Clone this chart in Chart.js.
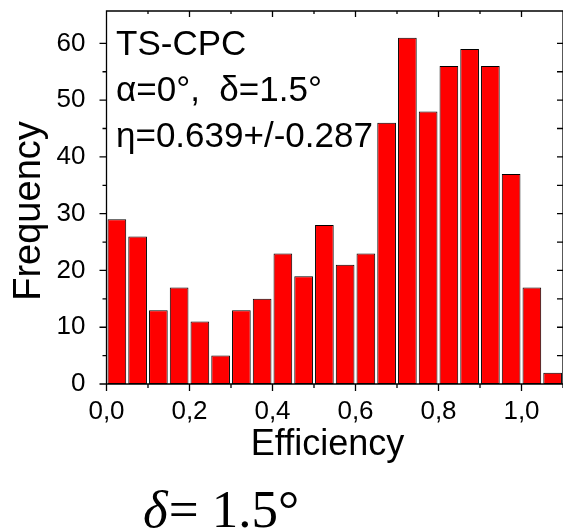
<!DOCTYPE html>
<html>
<head>
<meta charset="utf-8">
<script src="https://cdn.jsdelivr.net/npm/chart.js@4.4.1/dist/chart.umd.min.js"></script>
<style>
	body { margin: 0; background: #ffffff; }
	#wrap { width: 563px; height: 531px; position: relative; }
</style>
</head>
<body>
<div id="wrap"><canvas id="histogram"></canvas></div>
<script>

// bin centres (efficiency) and counts
var efficiencyBins					 =	[0.025, 0.075, 0.125, 0.175, 0.225, 0.275, 0.325, 0.375, 0.425, 0.475, 0.525,
										 0.575, 0.625, 0.675, 0.725, 0.775, 0.825, 0.875, 0.925, 0.975, 1.025, 1.075];
var frequencies						 =	[29, 26, 13, 17, 11, 5, 13, 15, 23, 19, 28,
										 21, 23, 46, 61, 48, 56, 59, 56, 37, 17, 2];
var xTickLabels						 =	["0,0", "0,2", "0,4", "0,6", "0,8", "1,0"];
var yTickLabels						 =	["0", "10", "20", "30", "40", "50", "60"];
var annotationLines					 =	["TS-CPC", "α=0°,  δ=1.5°", "η=0.639+/-0.287"];
var xTitle							 =	"Efficiency";
var yTitle							 =	"Frequency";
var captionSymbol					 =	"δ";
var captionText						 =	"= 1.5°";

var sansFont						 =	"'Liberation Sans', Arial, sans-serif";
var serifFont						 =	"'Liberation Serif', 'Times New Roman', serif";

/**
 * Draws frame, tick marks (outside on left/bottom, inside on top/right)
 */
var framePlugin						 =	{
	id								 :	"frame",
	afterDatasetsDraw				 :	function (chart) {
		
		var ctx						 =	chart.ctx;
		var area					 =	chart.chartArea;
		var xScale					 =	chart.scales.x;
		var yScale					 =	chart.scales.y;
		
		ctx.save();
		ctx.strokeStyle				 =	"#000";
		ctx.lineWidth				 =	1.3;
		ctx.beginPath();
		
		xScale.ticks.forEach(function (tick) {
			
			var step				 =	Math.round(tick.value * 10);
			if (Math.abs(tick.value * 10 - step) > 1e-6) return;
			var px					 =	xScale.getPixelForValue(tick.value);
			var len					 =	step % 2 === 0 ? 7 : 4;
			ctx.moveTo(px, area.bottom);
			ctx.lineTo(px, area.bottom + len);
			ctx.moveTo(px, area.top);
			ctx.lineTo(px, area.top + len - 1);
			
		});
		
		yScale.ticks.forEach(function (tick) {
			
			if (tick.value % 5 !== 0) return;
			var py					 =	yScale.getPixelForValue(tick.value);
			var len					 =	tick.value % 10 === 0 ? 7 : 4;
			ctx.moveTo(area.left, py);
			ctx.lineTo(area.left - len, py);
			ctx.moveTo(area.right, py);
			ctx.lineTo(area.right - 6, py);
			
		});
		
		ctx.rect(area.left, area.top, area.right - area.left, area.bottom - area.top);
		ctx.stroke();
		ctx.restore();
		
	}
};

/**
 * Draws axis titles, the annotation block and the caption
 */
var textPlugin						 =	{
	id								 :	"texts",
	afterDraw						 :	function (chart) {
		
		var ctx						 =	chart.ctx;
		
		ctx.save();
		ctx.fillStyle				 =	"#000";
		ctx.textBaseline			 =	"alphabetic";
		
		ctx.font					 =	"35px " + sansFont;
		ctx.textAlign				 =	"left";
		annotationLines.forEach(function (line, i) {
			ctx.fillText(line, 116, 55 + i * 46);
		});
		
		ctx.font					 =	"36px " + sansFont;
		ctx.textAlign				 =	"center";
		ctx.fillText(xTitle, 327.5, 455);
		
		ctx.save();
		ctx.translate(40, 211);
		ctx.rotate(-Math.PI / 2);
		ctx.font					 =	"38px " + sansFont;
		ctx.fillText(yTitle, 0, 0);
		ctx.restore();
		
		ctx.textAlign				 =	"left";
		ctx.font					 =	"italic 53px " + serifFont;
		ctx.fillText(captionSymbol, 143, 527);
		var symbolWidth				 =	ctx.measureText(captionSymbol).width;
		ctx.font					 =	"53px " + serifFont;
		ctx.fillText(captionText, 143 + symbolWidth + 1, 527);
		
		ctx.restore();
		
	}
};

/**
 * Fixes the box of a scale and clears the label overhang padding
 */
function fitScale(scale, size) {
	
	if (scale.isHorizontal()) scale.height = size;
	else scale.width = size;
	
	scale.paddingLeft				 =	0;
	scale.paddingRight				 =	0;
	scale.paddingTop				 =	0;
	scale.paddingBottom				 =	0;
	
}

/**
 * Renders the histogram
 */
function renderHistogram() {
	
	var data						 =	[];
	
	for (var i in efficiencyBins) {
		
		data.push({ x : efficiencyBins[i], y : frequencies[i] });
		
	}
	
	var config						 =	{
		type						 :	"bar",
		data						 :	{
			datasets				 :	[{
				data				 :	data,
				backgroundColor		 :	"#ff0000",
				borderColor			 :	"#000000",
				borderWidth			 :	1,
				borderSkipped		 :	false,
				barPercentage		 :	0.9,
				categoryPercentage	 :	1,
			}]
		},
		options						 :	{
			responsive				 :	true,
			maintainAspectRatio		 :	false,
			animation				 :	false,
			layout					 :	{ padding : { top : 11, right : 0, left : 0, bottom : 0 } },
			plugins					 :	{
				legend				 :	{ display : false },
				tooltip				 :	{ enabled : false },
			},
			scales					 :	{
				x					 :	{
					type			 :	"linear",
					min				 :	0,
					max				 :	1.1,
					offset			 :	false,
					grid			 :	{ display : false },
					border			 :	{ display : false },
					afterFit		 :	function (scale) { fitScale(scale, 147); },
					ticks			 :	{
						stepSize	 :	0.1,
						autoSkip	 :	false,
						maxRotation	 :	0,
						padding		 :	4,
						color		 :	"#000",
						font		 :	{ family : sansFont, size : 26 },
						callback	 :	function (value) {
							var k	 =	Math.round(value * 5);
							if (Math.abs(value * 5 - k) > 1e-6) return "";
							return xTickLabels[k] || "";
						}
					}
				},
				y					 :	{
					min				 :	0,
					max				 :	65.7,
					grid			 :	{ display : false },
					border			 :	{ display : false },
					afterFit		 :	function (scale) { fitScale(scale, 106.5); },
					ticks			 :	{
						stepSize	 :	5,
						autoSkip	 :	false,
						padding		 :	13,
						color		 :	"#000",
						font		 :	{ family : sansFont, size : 26 },
						callback	 :	function (value) {
							if (value % 10 !== 0) return "";
							return yTickLabels[value / 10] || "";
						}
					}
				}
			}
		},
		plugins						 :	[framePlugin, textPlugin]
	};
	
	new Chart(document.getElementById("histogram"), config);
	
}

renderHistogram();

</script>
</body>
</html>
